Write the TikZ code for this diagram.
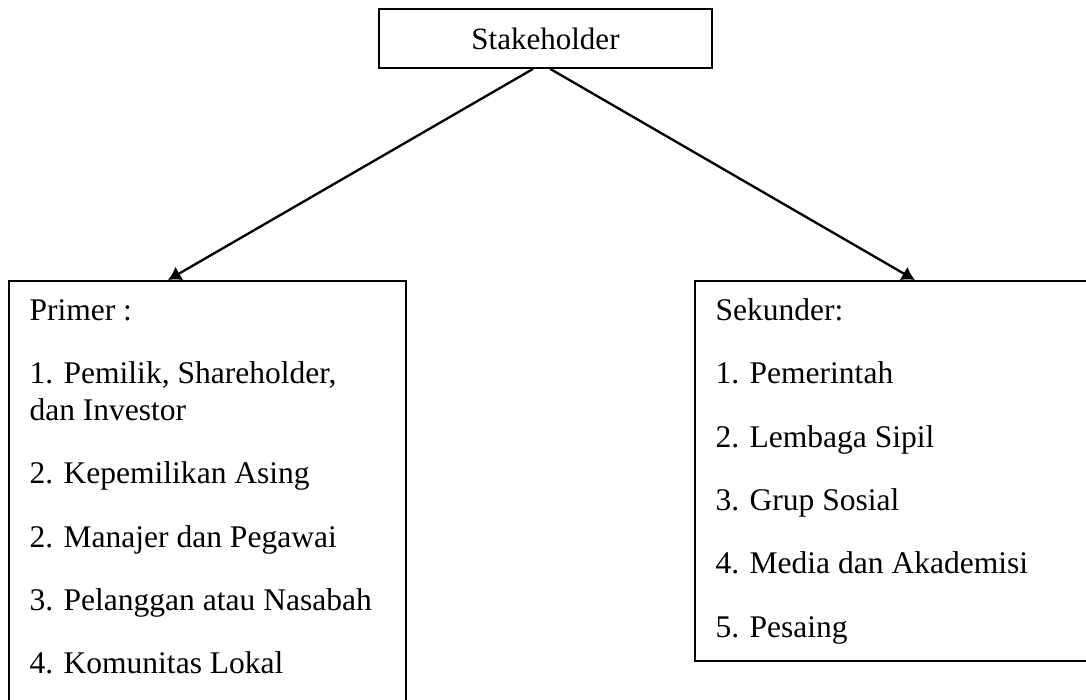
\documentclass[tikz,border=0pt]{standalone}
\usepackage{fontspec}
\setmainfont{Liberation Serif}
\usepackage{tikz}
\usetikzlibrary{positioning,arrows.meta}

\begin{document}
\begin{tikzpicture}[x=0.387pt,y=-0.387pt]
\tikzstyle{box}=[draw,line width=.7pt,rectangle,inner sep=0pt]
\tikzstyle{item}=[anchor=base west,inner sep=0pt,align=left,font=\fontsize{12.2}{14.3}\selectfont]
    \clip (0,0) rectangle (1086,699);
    \node[box,minimum width=128.9pt,minimum height=22.8pt,font=\fontsize{12}{14.3}\selectfont] (stake) at (545.5,38.5) {Stakeholder};
    \node[box,anchor=north west,minimum width=153.6pt,minimum height=174pt] (primer) at (8,280) {};
    \node[box,anchor=north west,minimum width=157.1pt,minimum height=147.1pt] (sekunder) at (694,280) {};
    \node[item] (p0) at (29,320) {Primer :};
    \node[item] (p1) at (29,420) {1. Pemilik, Shareholder,\\dan Investor};
    \node[item] (p2) at (29,483) {2. Kepemilikan Asing};
    \node[item] (p3) at (29,547) {2. Manajer dan Pegawai};
    \node[item] (p4) at (29,610) {3. Pelanggan atau Nasabah};
    \node[item] (p5) at (29,673) {4. Komunitas Lokal};
    \node[item] (s0) at (715,320) {Sekunder:};
    \node[item] (s1) at (715,383) {1. Pemerintah};
    \node[item] (s2) at (715,447) {2. Lembaga Sipil};
    \node[item] (s3) at (715,510) {3. Grup Sosial};
    \node[item] (s4) at (715,573) {4. Media dan Akademisi};
    \node[item] (s5) at (715,637) {5. Pesaing};
    \draw[-{Latex[length=5pt,width=6pt]},line width=.9pt] ([xshift=-4.8pt]stake.south) to ([xshift=61.9pt]primer.north west);
    \draw[-{Latex[length=5pt,width=6pt]},line width=.9pt] ([xshift=1.8pt]stake.south) to ([xshift=85.5pt]sekunder.north west);
  \end{tikzpicture}
\end{document}
